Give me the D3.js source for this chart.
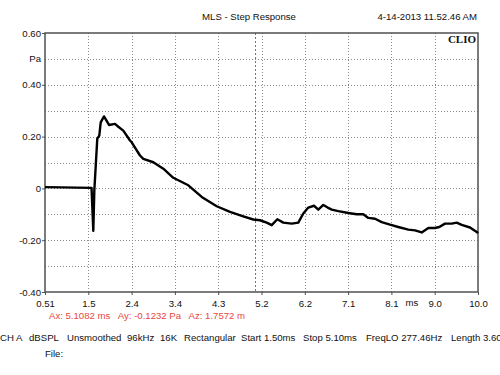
<!DOCTYPE html>
<html>
<head>
<meta charset="utf-8">
<script src="https://cdn.jsdelivr.net/npm/d3@7"></script>
<style>
  body { margin: 0; background: #fff; }
  svg text { font-family: "Liberation Sans", Arial, sans-serif; font-size: 9.6px; fill: #111; }
</style>
</head>
<body>
<div id="chart"></div>
<script>
// step response samples (ms, Pa)
var timeMs = [0.51, 0.88, 1.53, 1.569, 1.591, 1.656, 1.70, 1.731, 1.803, 1.913, 2.044, 2.117, 2.226, 2.373, 2.41, 2.592,
  2.665, 2.884, 3.103, 3.322, 3.651, 3.945, 4.273, 4.565, 4.856, 5.075, 5.222, 5.369, 5.479, 5.602, 5.733,
  5.917, 6.062, 6.171, 6.281, 6.406, 6.50, 6.61, 6.706, 6.794, 6.939, 7.158, 7.342, 7.486, 7.596, 7.743,
  7.89, 8.072, 8.253, 8.473, 8.62, 8.766, 8.911, 9.058, 9.152, 9.277, 9.424, 9.533, 9.643, 9.825, 9.972, 10.0];
var pressure = [0.005, 0.004, 0.002, -0.164, -0.008, 0.192, 0.204, 0.255, 0.278, 0.245, 0.249, 0.238, 0.223, 0.185, 0.178, 0.127,
  0.114, 0.101, 0.076, 0.041, 0.012, -0.033, -0.069, -0.091, -0.108, -0.12, -0.123, -0.132, -0.142, -0.119, -0.132,
  -0.136, -0.132, -0.097, -0.074, -0.067, -0.082, -0.064, -0.074, -0.082, -0.088, -0.095, -0.1, -0.1, -0.114, -0.117,
  -0.13, -0.14, -0.149, -0.159, -0.162, -0.17, -0.153, -0.153, -0.149, -0.136, -0.136, -0.132, -0.141, -0.151, -0.168, -0.173];

var xTickValues = [0.51, 1.459, 2.408, 3.357, 4.306, 5.255, 6.204, 7.153, 8.102, 9.051, 10.0];
var xTickLabels = ["0.51", "1.5", "2.4", "3.4", "4.3", "5.2", "6.2", "7.1", "8.1", "9.0", "10.0"];
var yGridValues = [-0.4, -0.3, -0.2, -0.1, 0, 0.1, 0.2, 0.3, 0.4, 0.5, 0.6];
var yTickValues = [0.6, 0.5, 0.4, 0.2, 0, -0.2, -0.4];
var yTickLabels = ["0.60", "Pa", "0.40", "0.20", "0", "-0.20", "-0.40"];
var cursorMs = 5.1082;
var infoItems = ["CH A", "dBSPL", "Unsmoothed", "96kHz", "16K", "Rectangular", "Start 1.50ms", "Stop 5.10ms", "FreqLO 277.46Hz", "Length 3.60"];
var infoX = [0, 29, 67, 127, 160, 184, 241, 303, 366, 451];

var W = 500, H = 375;
var plotL = 45, plotR = 478, plotT = 33, plotB = 292;
var fontFam = "Liberation Sans, Arial, sans-serif";

var svg = d3.select("#chart").append("svg")
    .attr("width", W)
    .attr("height", H);

var x = d3.scaleLinear().domain([0.51, 10.0]).range([plotL, plotR]);
var y = d3.scaleLinear().domain([-0.4, 0.6]).range([plotB, plotT]);

// grid
svg.append("g").selectAll("line")
  .data(xTickValues.slice(1, -1))
  .enter().append("line")
    .attr("x1", function(d) { return Math.round(x(d)) + 0.5; })
    .attr("x2", function(d) { return Math.round(x(d)) + 0.5; })
    .attr("y1", plotT).attr("y2", plotB)
    .attr("stroke", "#8a8a8a")
    .attr("stroke-dasharray", "1,2");

svg.append("g").selectAll("line")
  .data(yGridValues.slice(1, -1))
  .enter().append("line")
    .attr("x1", plotL).attr("x2", plotR)
    .attr("y1", function(d) { return Math.round(y(d)) + 0.5; })
    .attr("y2", function(d) { return Math.round(y(d)) + 0.5; })
    .attr("stroke", "#8a8a8a")
    .attr("stroke-dasharray", "1,2");

// cursor
svg.append("line")
  .attr("x1", Math.round(x(cursorMs)) + 0.5)
  .attr("x2", Math.round(x(cursorMs)) + 0.5)
  .attr("y1", plotT).attr("y2", plotB)
  .attr("stroke", "#e8483c")
  .attr("stroke-dasharray", "2,2");

// frame
svg.append("rect")
  .attr("x", plotL).attr("y", plotT)
  .attr("width", plotR - plotL).attr("height", plotB - plotT)
  .attr("fill", "none")
  .attr("stroke", "#505050")
  .attr("stroke-width", 1.5);

// axes
var xAxis = d3.axisBottom(x)
  .tickValues(xTickValues)
  .tickSize(3)
  .tickFormat(function(d, i) { return xTickLabels[i]; });
var gx = svg.append("g")
  .attr("transform", "translate(0," + plotB + ")")
  .call(xAxis);
gx.select(".domain").remove();
gx.selectAll("line").attr("stroke", "#505050");
gx.selectAll("text").attr("y", 8).attr("dy", "0.75em")
  .style("font-size", "9.6px").style("font-family", fontFam).style("fill", "#111");

var yAxis = d3.axisLeft(y)
  .tickValues(yTickValues)
  .tickSize(3)
  .tickFormat(function(d, i) { return yTickLabels[i]; });
var gy = svg.append("g")
  .attr("transform", "translate(" + plotL + ",0)")
  .call(yAxis);
gy.select(".domain").remove();
gy.selectAll("line").attr("stroke", "#505050")
  .attr("x2", function(d) { return d === 0.5 ? 0 : -3; });
gy.selectAll("text").attr("x", -4)
  .style("font-size", "9.6px").style("font-family", fontFam).style("fill", "#111");

svg.append("text")
  .attr("x", 412).attr("y", 306)
  .attr("text-anchor", "middle")
  .text("ms");

// curve
var pts = timeMs.map(function(t, i) { return [t, pressure[i]]; });
svg.append("path")
  .datum(pts)
  .attr("fill", "none")
  .attr("stroke", "#000")
  .attr("stroke-width", 2.4)
  .attr("stroke-linejoin", "round")
  .attr("d", d3.line()
    .x(function(d) { return x(d[0]); })
    .y(function(d) { return y(d[1]); }));

// titles
svg.append("text")
  .attr("x", 249).attr("y", 20)
  .attr("text-anchor", "middle")
  .text("MLS - Step Response");
svg.append("text")
  .attr("x", 477).attr("y", 20)
  .attr("text-anchor", "end")
  .text("4-14-2013 11.52.46 AM");
svg.append("text")
  .attr("x", 476).attr("y", 43)
  .attr("text-anchor", "end")
  .style("font-family", "Liberation Serif, Times New Roman, serif")
  .style("font-weight", "bold")
  .style("font-size", "11px")
  .text("CLIO");

// cursor readout
svg.append("text")
  .attr("x", 49).attr("y", 319)
  .style("fill", "#e8483c")
  .attr("xml:space", "preserve")
  .text("Ax: 5.1082 ms   Ay: -0.1232 Pa   Az: 1.7572 m");

// info lines
svg.append("g").selectAll("text")
  .data(infoItems)
  .enter().append("text")
    .attr("x", function(d, i) { return infoX[i]; })
    .attr("y", 341)
    .text(function(d) { return d; });

svg.append("text")
  .attr("x", 45).attr("y", 357)
  .text("File:");
</script>
</body>
</html>
